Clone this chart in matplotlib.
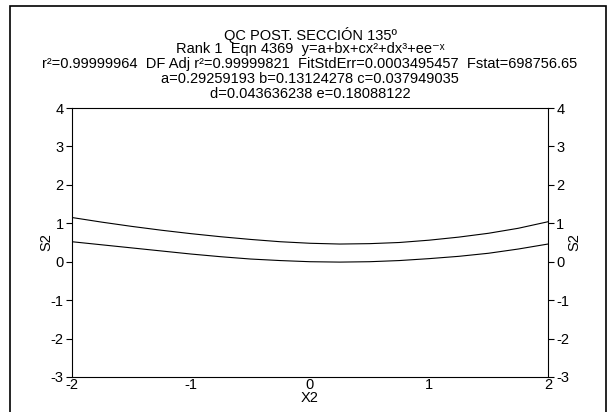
import numpy as np
import matplotlib.pyplot as plt
from matplotlib.patches import Rectangle

plt.rcParams['font.family'] = ['Liberation Sans', 'DejaVu Sans']
plt.rcParams['axes.unicode_minus'] = False

# data
x2 = [-2, -1.75, -1.5, -1.25, -1, -0.75, -0.5, -0.25, 0, 0.25, 0.5, 0.75, 1, 1.25, 1.5, 1.75, 2]
s2_upper = [1.15, 1.03, 0.92, 0.82, 0.73, 0.65, 0.58, 0.52, 0.48, 0.46, 0.47, 0.50, 0.56, 0.64, 0.74, 0.87, 1.04]
s2_lower = [0.52, 0.44, 0.36, 0.28, 0.20, 0.13, 0.07, 0.03, 0.0, -0.01, 0.0, 0.03, 0.08, 0.14, 0.22, 0.33, 0.46]

x_ticks = [-2, -1, 0, 1, 2]
y_ticks = [-3, -2, -1, 0, 1, 2, 3, 4]

title_lines = [
    "QC POST. SECCIÓN 135º",
    "Rank 1  Eqn 4369  y=a+bx+cx²+dx³+ee⁻ˣ",
    "r²=0.99999964  DF Adj r²=0.99999821  FitStdErr=0.0003495457  Fstat=698756.65",
    "a=0.29259193 b=0.13124278 c=0.037949035",
    "d=0.043636238 e=0.18088122",
]

W, H = 612, 412
fig = plt.figure(figsize=(W / 100, H / 100), dpi=100)
ax = fig.add_axes([72 / W, 1 - 377 / H, (548 - 72) / W, (377 - 108) / H])

ax.plot(x2, s2_upper, color='black', lw=0.8)
ax.plot(x2, s2_lower, color='black', lw=0.8)

ax.set_xlim(-2, 2)
ax.set_ylim(-3, 4)
ax.set_xticks(x_ticks)
ax.set_yticks(y_ticks)
ax.tick_params(axis='x', length=0, labelsize=10.5, pad=1)
ax.tick_params(axis='y', direction='out', length=4, labelsize=10.5,
               left=True, right=True, labelleft=True, labelright=True, pad=2)
for s in ax.spines.values():
    s.set_linewidth(0.8)
ax.set_xlabel("X2", fontsize=10.5, labelpad=-1)
ax.set_ylabel("S2", fontsize=10.5, labelpad=-2)
ax2 = ax.secondary_yaxis('right')
ax2.set_yticks([])
ax2.set_ylabel("S2", fontsize=10.5, rotation=90, labelpad=14)
ax2.spines['right'].set_visible(False)

ys = [35, 49.5, 64, 79, 93.5]
for t, y in zip(title_lines, ys):
    fig.text(310 / W, 1 - y / H, t, ha='center', va='center', fontsize=10.5)

fig.add_artist(Rectangle((10 / W, -0.05), (606 - 10) / W, 1.05 - 6 / H,
                         transform=fig.transFigure, fill=False, lw=1.2, color='black'))

fig.savefig("out.png", dpi=100)
